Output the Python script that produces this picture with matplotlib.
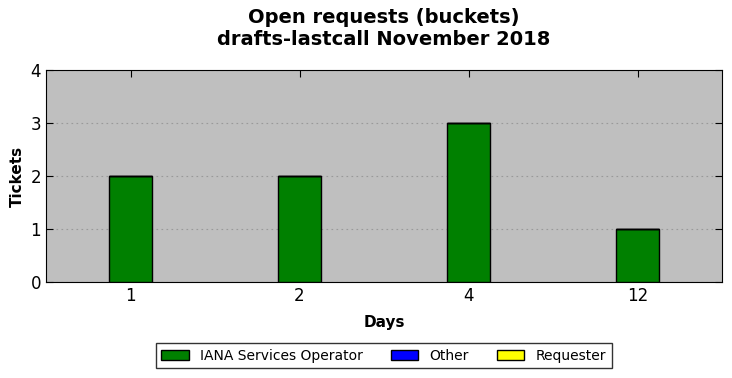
import matplotlib
matplotlib.use("Agg")
import matplotlib.pyplot as plt
import numpy as np

categories = ["1", "2", "4", "12"]
iana = [2, 2, 3, 1]
other = [0, 0, 0, 0]
requester = [0, 0, 0, 0]

fig = plt.figure(figsize=(7.32, 3.78), dpi=100)
ax = fig.add_axes([46/732, 1-282/378, 676/732, 212/378])
x = np.arange(len(categories))
w = 0.25
ax.bar(x, iana, w, color="#008000", edgecolor="black", label="IANA Services Operator", zorder=3)
b2 = np.array(iana)
ax.bar(x, other, w, bottom=b2, color="#0000ff", edgecolor="black", label="Other", zorder=3)
b3 = b2 + np.array(other)
ax.bar(x, requester, w, bottom=b3, color="#ffff00", edgecolor="black", label="Requester", zorder=3)

ax.set_facecolor("#bfbfbf")
ax.set_xlim(-0.5, len(categories) - 0.5)
ax.set_ylim(0, 4)
ax.set_yticks([0, 1, 2, 3, 4])
ax.set_xticks(x)
ax.set_xticklabels(categories)
ax.tick_params(direction="in", top=True, right=True, labelsize=12, length=5)
ax.yaxis.grid(True, linestyle=(0, (1.5, 3)), color="#999999", linewidth=0.8)
ax.set_axisbelow(True)
ax.set_xlabel("Days", fontsize=11, fontweight="bold", labelpad=7)
ax.set_ylabel("Tickets", fontsize=11, fontweight="bold")
ax.set_title("Open requests (buckets)\ndrafts-lastcall November 2018", fontsize=14, fontweight="bold", pad=18)
fig.legend(loc="lower center", ncol=3, bbox_to_anchor=(0.524, 0.007), fontsize=10,
           frameon=True, fancybox=False, edgecolor="black", handlelength=2, columnspacing=2)
fig.savefig("out.png", dpi=100)
